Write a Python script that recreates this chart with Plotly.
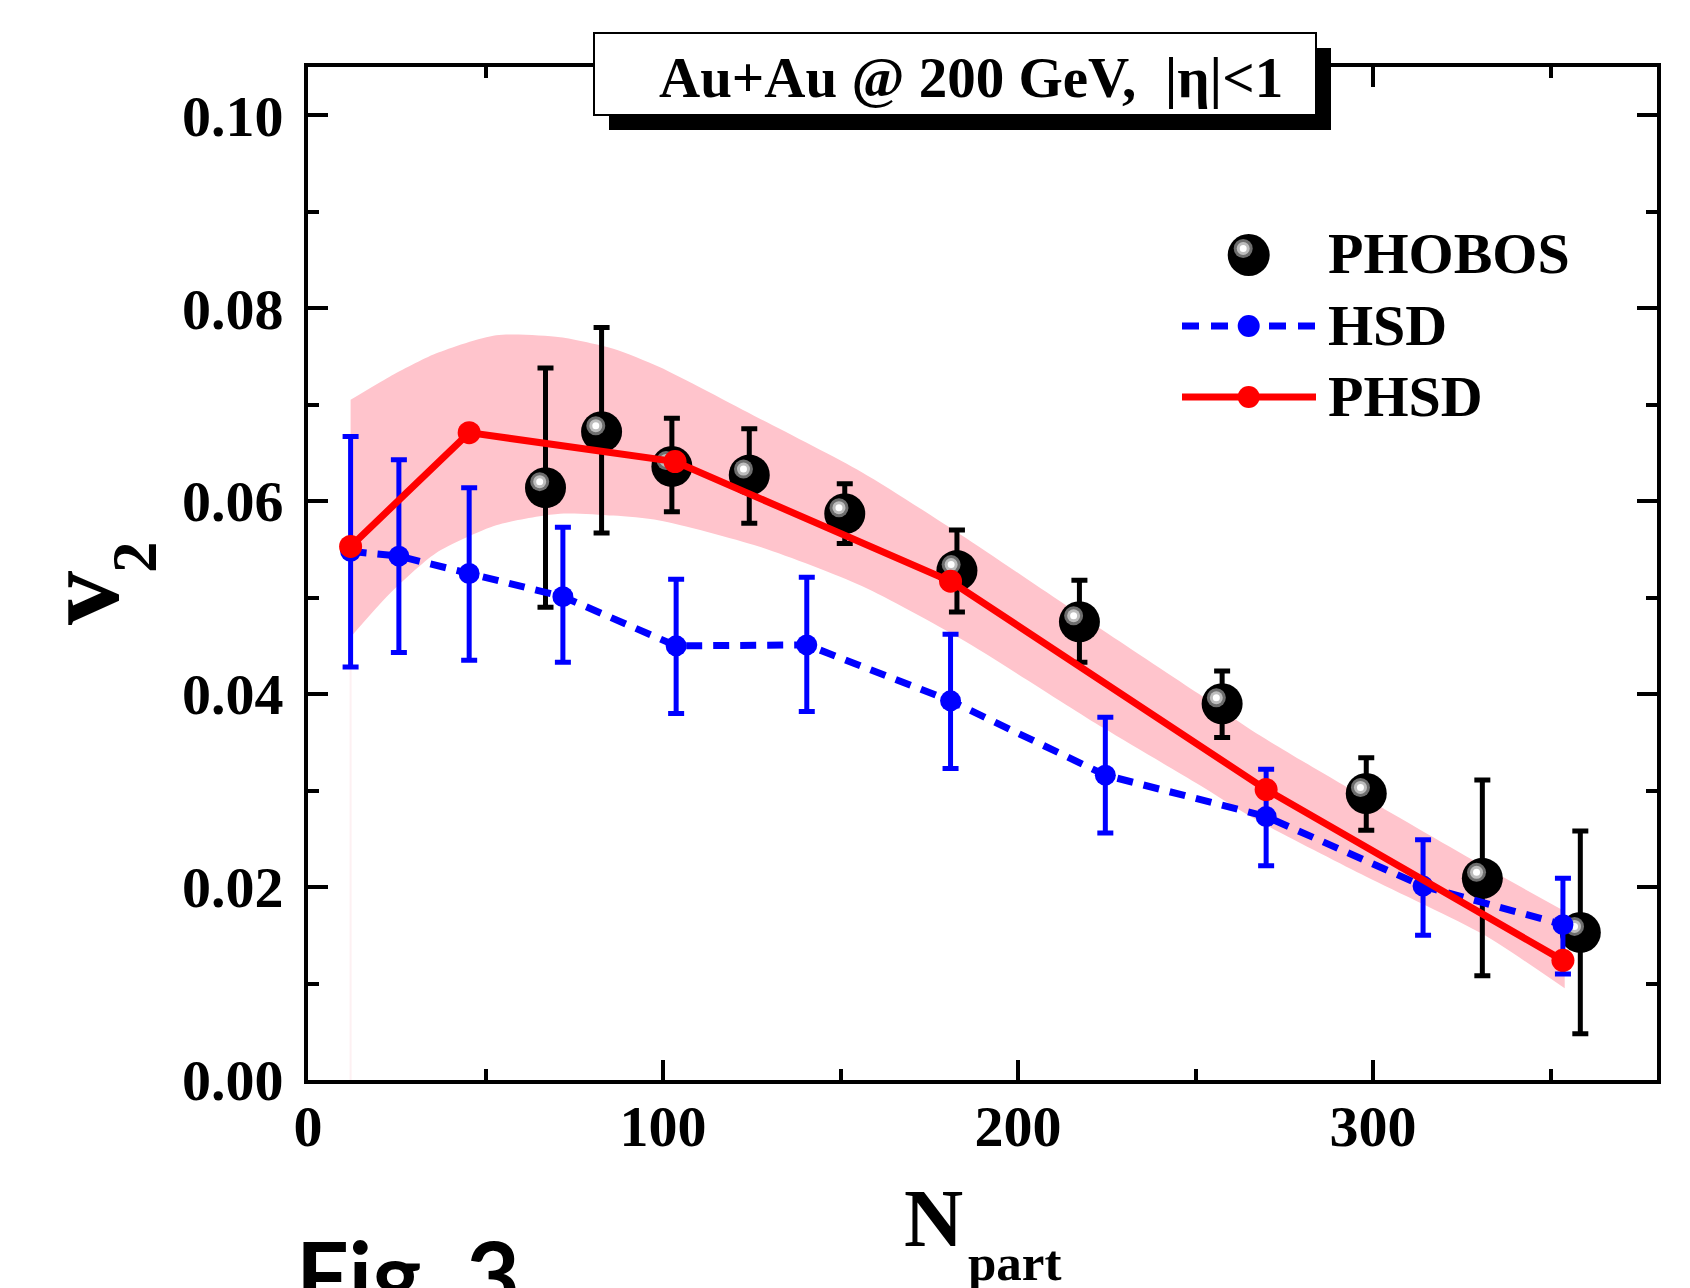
import plotly.graph_objects as go

# ---------------- data ----------------
# PHOBOS measurement
phobos_npart = [66.9, 82.7, 102.5, 124.3, 151.2, 182.8, 217.3, 257.5, 298.1, 330.8, 358.4]
phobos_v2 = [0.0614, 0.0672, 0.0636, 0.0627, 0.0587, 0.0528, 0.0475, 0.0390, 0.0297, 0.0209, 0.0153]
phobos_err_up = [0.0124, 0.0108, 0.0050, 0.0048, 0.0031, 0.0042, 0.0043, 0.0034, 0.0037, 0.0102, 0.0105]
phobos_err_dn = [0.0124, 0.0105, 0.0047, 0.0050, 0.0031, 0.0043, 0.0042, 0.0035, 0.0038, 0.0101, 0.0105]

# HSD transport calculation
hsd_npart = [12.0, 25.6, 45.4, 71.8, 103.7, 140.5, 181.0, 224.6, 269.9, 314.1, 353.5]
hsd_v2 = [0.0548, 0.0543, 0.0525, 0.0501, 0.0450, 0.0451, 0.0393, 0.0316, 0.0273, 0.0201, 0.0161]
hsd_err_up = [0.0119, 0.0100, 0.0089, 0.0072, 0.0069, 0.0070, 0.0069, 0.0060, 0.0049, 0.0048, 0.0048]
hsd_err_dn = [0.0120, 0.0100, 0.0090, 0.0068, 0.0070, 0.0069, 0.0070, 0.0060, 0.0051, 0.0051, 0.0051]

# PHSD calculation
phsd_npart = [12.0, 45.4, 103.4, 181.0, 269.9, 353.5]
phsd_v2 = [0.0553, 0.0671, 0.0641, 0.0517, 0.0301, 0.0124]

# PHSD uncertainty band
band_npart = [12, 23, 36, 53, 71, 86, 99, 127, 156, 184, 224, 251, 266, 298, 331, 354]
band_upper = [0.0705, 0.0729, 0.0753, 0.0772, 0.0770, 0.0758, 0.0739, 0.0686, 0.0630,
              0.0565, 0.0466, 0.0400, 0.0362, 0.0292, 0.0222, 0.0175]
band_lower = [0.0459, 0.0504, 0.0546, 0.0575, 0.0587, 0.0585, 0.0580, 0.0553, 0.0512,
              0.0457, 0.0365, 0.0306, 0.0272, 0.0211, 0.0151, 0.0095]

x_tickvals = [0, 100, 200, 300]
y_tickvals = [0.00, 0.02, 0.04, 0.06, 0.08, 0.10]
y_ticktext = ["0.00", "0.02", "0.04", "0.06", "0.08", "0.10"]

# ---------------- geometry ----------------
W, H = 1690, 1288
ML, MR, MT, MB = 308, 33, 67, 208
X_RANGE = [0, 380]
Y_RANGE = [0, 0.105]
PW, PH = W - ML - MR, H - MT - MB
X_SCALE = PW / (X_RANGE[1] - X_RANGE[0])   # px per unit
Y_SCALE = PH / (Y_RANGE[1] - Y_RANGE[0])


def paper(px, py):
    """Page pixel position -> paper coordinates."""
    return (px - ML) / PW, (H - MB - py) / PH


SERIF = "Liberation Serif"
BLUE = "#0000ff"
RED = "#ff0000"
PINK = "rgb(255,196,204)"

fig = go.Figure()

# faint left edge of the band down to the axis
fig.add_trace(go.Scatter(x=[band_npart[0], band_npart[0]], y=[0, band_lower[0]],
                         mode="lines", line=dict(width=2, color="#fdf0f2"),
                         hoverinfo="skip", showlegend=False))

# uncertainty band
fig.add_trace(go.Scatter(x=band_npart, y=band_lower, mode="lines",
                         line=dict(width=0, shape="spline", smoothing=0.7),
                         hoverinfo="skip", showlegend=False))
fig.add_trace(go.Scatter(x=band_npart, y=band_upper, mode="lines",
                         line=dict(width=0, shape="spline", smoothing=0.7),
                         fill="tonexty", fillcolor=PINK,
                         hoverinfo="skip", showlegend=False))

# PHOBOS spheres with error bars
fig.add_trace(go.Scatter(
    x=phobos_npart, y=phobos_v2, mode="markers", showlegend=False,
    marker=dict(size=41, color="black", line=dict(width=0)),
    error_y=dict(type="data", symmetric=False, array=phobos_err_up,
                 arrayminus=phobos_err_dn, color="black", thickness=5, width=8)))

# specular highlight on the spheres (offset up-left by a few pixels)
hl_dx = -5.8 / X_SCALE
hl_dy = 6.0 / Y_SCALE
hl_x = [v + hl_dx for v in phobos_npart]
hl_y = [v + hl_dy for v in phobos_v2]
for size, col in [(19, "#6e6e6e"), (13, "#bdbdbd"), (7, "#ffffff")]:
    fig.add_trace(go.Scatter(x=hl_x, y=hl_y, mode="markers", showlegend=False,
                             hoverinfo="skip",
                             marker=dict(size=size, color=col, line=dict(width=0))))

# HSD
fig.add_trace(go.Scatter(
    x=hsd_npart, y=hsd_v2, mode="lines+markers", showlegend=False,
    line=dict(color=BLUE, width=7, dash="16px,11px"),
    marker=dict(size=21, color=BLUE, line=dict(width=0)),
    error_y=dict(type="data", symmetric=False, array=hsd_err_up,
                 arrayminus=hsd_err_dn, color=BLUE, thickness=5, width=8)))

# PHSD
fig.add_trace(go.Scatter(
    x=phsd_npart, y=phsd_v2, mode="lines+markers", showlegend=False,
    line=dict(color=RED, width=7),
    marker=dict(size=23, color=RED, line=dict(width=0))))

tick_font = dict(family=SERIF, size=58, color="black", weight="bold")
axis_common = dict(showline=True, linewidth=4, linecolor="black", mirror="ticks",
                   ticks="inside", ticklen=20, tickwidth=4, tickcolor="black",
                   showgrid=False, zeroline=False, tickfont=tick_font)

fig.update_layout(
    width=W, height=H,
    margin=dict(l=ML, r=MR, t=MT, b=MB, pad=0),
    paper_bgcolor="white", plot_bgcolor="white",
    showlegend=False,
    xaxis=dict(range=X_RANGE, tickvals=x_tickvals, ticklabelstandoff=-8,
               minor=dict(dtick=50, tick0=0, ticks="inside", ticklen=11,
                          tickwidth=4, tickcolor="black"),
               **axis_common),
    yaxis=dict(range=Y_RANGE, tickvals=y_tickvals, ticktext=y_ticktext,
               ticklabelstandoff=9,
               minor=dict(dtick=0.01, tick0=0, ticks="inside", ticklen=11,
                          tickwidth=4, tickcolor="black"),
               **axis_common),
)

shapes = []
annotations = []


def rect(x0, y0, x1, y1, fill, lw=0):
    a = paper(x0, y1)
    b = paper(x1, y0)
    return dict(type="rect", xref="paper", yref="paper", layer="above",
                x0=a[0], y0=a[1], x1=b[0], y1=b[1], fillcolor=fill,
                line=dict(color="black", width=lw))


# title box with drop shadow
shapes.append(rect(609, 48, 1331, 130, "black"))
shapes.append(rect(594, 33, 1316, 115, "white", lw=2))
tx, ty = paper(657, 77)
annotations.append(dict(xref="paper", yref="paper", x=tx, y=ty, xanchor="left",
                        yanchor="middle", showarrow=False,
                        text="Au+Au @ 200 GeV,&nbsp; |η|&lt;1",
                        font=dict(family=SERIF, size=57, color="black", weight="bold")))


def circle(cx, cy, r, color):
    ax, ay = paper(cx, cy)
    return dict(type="circle", xref="paper", yref="paper", layer="above",
                xsizemode="pixel", ysizemode="pixel", xanchor=ax, yanchor=ay,
                x0=-r, x1=r, y0=-r, y1=r, fillcolor=color,
                line=dict(width=0))


def hline(x0, x1, y, color, width, dash="solid"):
    a = paper(x0, y)
    b = paper(x1, y)
    return dict(type="line", xref="paper", yref="paper", layer="above",
                x0=a[0], x1=b[0], y0=a[1], y1=b[1],
                line=dict(color=color, width=width, dash=dash))


# legend
LEG_MX = 1248.7
rows = [("PHOBOS", 254), ("HSD", 326), ("PHSD", 397)]
shapes.append(circle(LEG_MX, 255, 21, "black"))
shapes.append(circle(LEG_MX - 5.5, 248.5, 9.5, "#6e6e6e"))
shapes.append(circle(LEG_MX - 5.5, 248.5, 6.5, "#bdbdbd"))
shapes.append(circle(LEG_MX - 5.5, 248.5, 3.5, "#ffffff"))
shapes.append(hline(1182, 1315, 326, BLUE, 7, dash="17px,12px"))
shapes.append(circle(LEG_MX, 326, 11, BLUE))
shapes.append(hline(1182, 1316, 397, RED, 7))
shapes.append(circle(LEG_MX, 397, 11, RED))

for label, y in rows:
    lx, ly = paper(1326, y)
    annotations.append(dict(xref="paper", yref="paper", x=lx, y=ly, xanchor="left",
                            yanchor="middle", showarrow=False, text=label,
                            font=dict(family=SERIF, size=58, color="black", weight="bold")))

# axis titles
nx, ny = paper(933.5, 1218)
annotations.append(dict(xref="paper", yref="paper", x=nx, y=ny, xanchor="center",
                        yanchor="middle", showarrow=False, text="N",
                        font=dict(family=SERIF, size=82, color="black", weight="bold")))
sx, sy = paper(966, 1263)
annotations.append(dict(xref="paper", yref="paper", x=sx, y=sy, xanchor="left",
                        yanchor="middle", showarrow=False, text="part",
                        font=dict(family=SERIF, size=51, color="black", weight="bold")))

vx, vy = paper(81, 598)
annotations.append(dict(xref="paper", yref="paper", x=vx, y=vy, xanchor="center",
                        yanchor="middle", showarrow=False, text="v", textangle=-90,
                        font=dict(family=SERIF, size=108, color="black", weight="bold")))
v2x, v2y = paper(135, 557)
annotations.append(dict(xref="paper", yref="paper", x=v2x, y=v2y, xanchor="center",
                        yanchor="middle", showarrow=False, text="2", textangle=-90,
                        font=dict(family=SERIF, size=63, color="black", weight="bold")))

# figure number, partly below the page edge
fx, fy = paper(294, 1216)
annotations.append(dict(xref="paper", yref="paper", x=fx, y=fy, xanchor="left",
                        yanchor="top", showarrow=False, text="Fig. 3",
                        font=dict(family="Lato", size=93, color="black", weight="bold")))

fig.update_layout(shapes=shapes, annotations=annotations)

fig.write_html("out.html")
